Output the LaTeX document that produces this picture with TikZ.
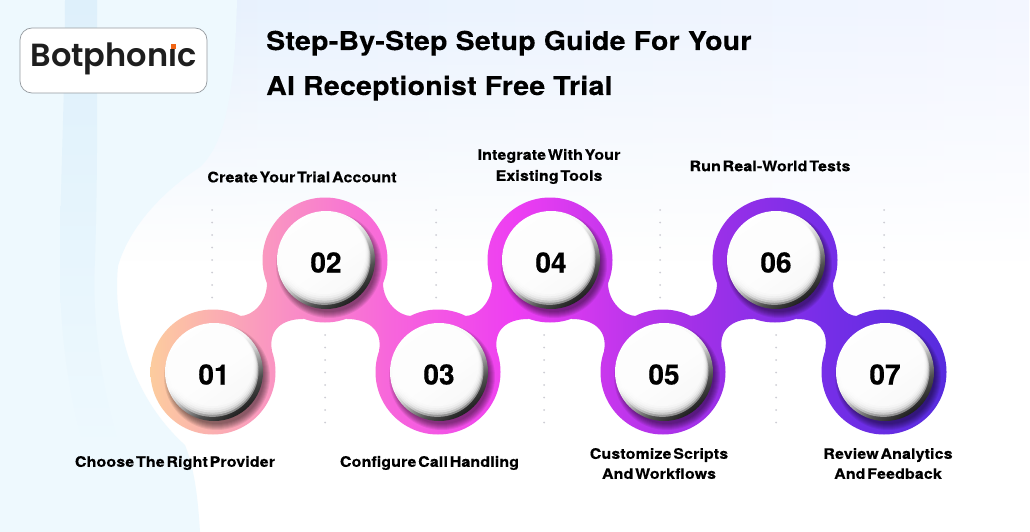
\documentclass[tikz,border=0pt]{standalone}
\usepackage{fontspec}
\setmainfont{TeX Gyre Heros}[BoldFeatures={FakeBold=0.4}]
\newfontfamily\titlefont[LetterSpace=1,FakeStretch=1.095,BoldFeatures={FakeBold=0.3}]{TeX Gyre Heros}
\newfontfamily\stepfont[LetterSpace=1,FakeStretch=1.1,WordSpace=0.4,BoldFeatures={FakeBold=0.3}]{TeX Gyre Heros}
\newfontfamily\logofont{Poppins SemiBold}
\usetikzlibrary{shadings,fadings}

% ribbon colours, left to right
\pgfdeclarehorizontalshading{ribbonshade}{100bp}{
  rgb(0bp)=(0.99,0.80,0.62); rgb(25bp)=(0.99,0.80,0.62);
  rgb(32bp)=(0.98,0.60,0.75); rgb(40bp)=(0.97,0.40,0.86);
  rgb(48bp)=(0.93,0.24,0.95); rgb(59bp)=(0.64,0.19,0.91);
  rgb(67bp)=(0.47,0.18,0.91); rgb(75bp)=(0.34,0.17,0.87); rgb(100bp)=(0.34,0.17,0.87)}
% rim of the white discs
\pgfdeclareverticalshading{rimshade}{100bp}{
  rgb(0bp)=(0.12,0.12,0.12); rgb(25bp)=(0.12,0.12,0.12); rgb(35bp)=(0.32,0.32,0.32);
  rgb(48bp)=(0.80,0.80,0.80); rgb(56bp)=(0.97,0.97,0.97); rgb(75bp)=(1,1,1); rgb(100bp)=(1,1,1)}

\begin{document}
\begin{tikzpicture}[x=1pt,y=-1pt,
    steplabel/.style={font=\stepfont\bfseries\fontsize{14.5}{20}\selectfont, align=center, inner sep=0pt, text=black},
    titleline/.style={font=\titlefont\bfseries\fontsize{26}{30}\selectfont, anchor=base west, inner sep=0pt, text=black},
    stepnum/.style={font=\bfseries\fontsize{28}{30}\selectfont, inner sep=0pt, text=black},
    dotcolumn/.style={line width=2pt, line cap=round, dash pattern=on 0pt off 12.5pt, draw=dotgray}]

    \definecolor{tinttop}{RGB}{228,240,253}     % pale blue
    \definecolor{tintright}{RGB}{243,246,255}   % pale lavender
    \definecolor{tintleft}{RGB}{238,249,254}    % left tint
    \definecolor{bandblue}{RGB}{222,240,251}    % darker band
    \definecolor{dotgray}{RGB}{205,205,212}
    \definecolor{logoframe}{RGB}{150,155,160}
    \definecolor{logotext}{RGB}{30,30,30}
    \definecolor{logodot}{RGB}{240,100,20}

    \useasboundingbox (0,0) rectangle (1030,532);

    % Background
    \fill[white] (0,0) rectangle (1030,532);
    \shade[left color=tinttop, right color=tintright, path fading=south] (0,0) rectangle (1030,260);
    \fill[tintleft] (0,0) -- (237,0) .. controls (235,70) and (230,140) .. (200,167)
        .. controls (165,190) and (130,225) .. (118,266)
        .. controls (112,330) and (135,400) .. (185,445)
        .. controls (195,470) and (198,500) .. (200,532) -- (0,532) -- cycle;
    \shade[top color=bandblue, bottom color=tintleft] (65,0) .. controls (65,100) and (60,180) .. (60,270)
        .. controls (60,340) and (70,400) .. (85,450) -- (120,450)
        .. controls (100,380) and (92,320) .. (95,260) .. controls (98,170) and (97,80) .. (97,0) -- cycle;

    % Dots
    \foreach \x in {212,436,660,884}
        \draw[dotcolumn] (\x,210) -- (\x,299);
    \foreach \x in {325,544,776}
        \draw[dotcolumn] (\x,335) -- (\x,424);

    % Ribbon: circles, then rising and falling necks
    \shade[shading=ribbonshade]
        \foreach \x/\y in {213/372,325/260,438/372,550/260,663/372,775/260,884/372}
            { (\x,\y) circle (62.5pt) }
        \foreach \l/\u in {213/325,438/550,663/775}
            { (\l,372) -- (\l+59,351) .. controls (\l+55,330) and (\u-43,319) .. (\u-22,319)
              -- (\u,260) -- (\u-58,283) .. controls (\u-58,302) and (\u-72,316) .. (\l+27,316) -- cycle }
        \foreach \u/\l in {325/438,550/663,775/884}
            { (\l-27,316) .. controls (\l-39,316) and (\u+58,302) .. (\u+58,283) -- (\u,260) -- (\u+22,319)
              .. controls (\u+43,319) and (\l-55,330) .. (\l-59,351) -- (\l,372) -- cycle };

    % Discs with numbers
    \foreach \n/\x/\y in {01/214/372,02/326/260,03/439/372,04/551/260,05/664/372,06/776/260,07/885/372} {
        \foreach \r in {47,48,...,53}
            \fill[black, opacity=.08] (\x+3,\y+5) circle (\r pt);
        \shade[shading=rimshade, shading angle=35] (\x,\y) circle (49pt);
        \foreach \r in {46,45,...,41}
            \fill[white, opacity=.45] (\x-1.5,\y+\r*1.15-54) circle (\r pt);
        \node[stepnum] (num\n) at (\x,\y+2.5) {\n};
    }

    % Step labels
    \node[steplabel] (stepone) at (175,463) {Choose The Right Provider};
    \node[steplabel] (steptwo) at (302,177) {Create Your Trial Account};
    \node[steplabel] (stepthree) at (429.5,463) {Configure Call Handling};
    \node[steplabel] (stepfour) at (549,166.5) {Integrate With Your\\[1pt]Existing Tools};
    \node[steplabel] (stepfive) at (659,463.5) {Customize Scripts\\And Workflows};
    \node[steplabel] (stepsix) at (770,166) {Run Real-World Tests};
    \node[steplabel] (stepseven) at (888,463.5) {Review Analytics\\And Feedback};

    % Title
    \node[titleline] (titleone) at (266,50) {Step-By-Step Setup Guide For Your};
    \node[titleline] (titletwo) at (266,95) {AI Receptionist Free Trial};

    % Logo
    \node[draw=logoframe, fill=white, rounded corners=12pt, line width=.7pt, minimum width=187pt, minimum height=65pt, inner sep=0pt] (logobox) at (113.5,60.5) {};
    \node[font=\logofont\fontsize{32}{34}\selectfont, text=logotext, inner sep=0pt] (logotext) at (113.5,58) {Botphonic};
    \fill[white] (168,40) rectangle (178,49.3);
    \fill[logodot] (171.2,44) rectangle (176,48.7);
\end{tikzpicture}
\end{document}
